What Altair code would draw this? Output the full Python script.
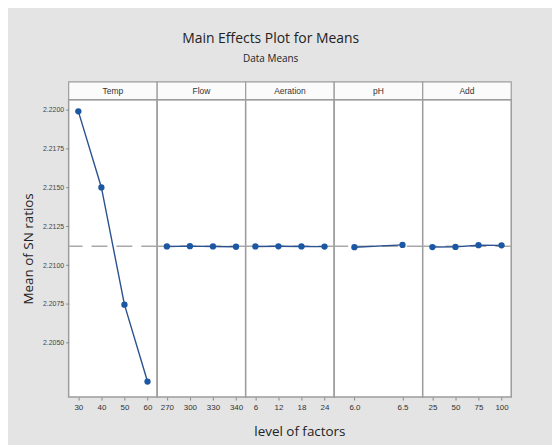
import altair as alt
import pandas as pd

# ---- data ----
factors = ["Temp", "Flow", "Aeration", "pH", "Add"]

temp_levels = ["30", "40", "50", "60"]
temp_means = [2.21990, 2.21500, 2.20745, 2.20250]

flow_levels = ["270", "300", "330", "340"]
flow_means = [2.21120, 2.21122, 2.21120, 2.21118]

aer_levels = ["6", "12", "18", "24"]
aer_means = [2.21120, 2.21121, 2.21120, 2.21119]

ph_levels = ["6.0", "6.5"]
ph_means = [2.21115, 2.21130]

add_levels = ["25", "50", "75", "100"]
add_means = [2.21116, 2.21117, 2.21128, 2.21127]

y_ticks = [2.2050, 2.2075, 2.2100, 2.2125, 2.2150, 2.2175, 2.2200]
y_domain = [2.2015, 2.22065]

levels = [temp_levels, flow_levels, aer_levels, ph_levels, add_levels]
means = [temp_means, flow_means, aer_means, ph_means, add_means]
grand_mean = sum(temp_means) / len(temp_means)

W, H = 89, 299
STRIP = 18
FONT = "Liberation Sans"
TFONT = "Open Sans"
LINE = "#2a5290"
PT = "#1b57a3"
BORDER = "#9c9c9c"


def panel(i):
    f = factors[i]
    df = pd.DataFrame({
        "level": levels[i],
        "mean": means[i],
        "factor": [f] * len(levels[i]),
        "grand": [grand_mean] * len(levels[i]),
    })
    base = alt.Chart(df)
    xaxis = alt.Axis(
        title="level of factors" if f == "Aeration" else None,
        labelAngle=0, labelFontSize=8, labelColor="#333", labelFont=FONT,
        tickSize=3, tickColor="#888", domain=False, labelPadding=4,
        titleFont=TFONT, titleFontSize=13.5, titleFontWeight="normal",
        titleColor="#222", titlePadding=13, titleX=54,
    )
    yscale = alt.Scale(domain=y_domain, nice=False, zero=False)
    if i == 0:
        yaxis = alt.Axis(
            title="Mean of SN ratios", values=y_ticks, format=".4f",
            labelFontSize=7, labelColor="#444", labelFont=FONT,
            tickSize=3, tickColor="#888", domain=False, grid=False,
            titleFont=TFONT, titleFontSize=13.5, titleFontWeight="normal",
            titleColor="#222", titlePadding=7,
        )
    else:
        yaxis = None
    x = alt.X("level:O", sort=levels[i],
              scale=alt.Scale(type="point", padding=0.42), axis=xaxis)
    y = alt.Y("mean:Q", scale=yscale, axis=yaxis)

    strip = base.transform_aggregate(
        n="count()", groupby=["factor"]
    ).mark_rect(fill="#fbfbfb", stroke=BORDER, strokeWidth=1.2).encode(
        x=alt.value(0), x2=alt.value(W), y=alt.value(-STRIP), y2=alt.value(0)
    )
    strip_text = base.transform_aggregate(
        n="count()", groupby=["factor"]
    ).mark_text(font=FONT, fontSize=8.5, color="#333", baseline="middle").encode(
        text="factor:N", x=alt.value(W / 2), y=alt.value(-STRIP / 2)
    )
    rule = base.transform_aggregate(g="mean(grand)").mark_rule(
        color="#a9a9a9", strokeWidth=1.4, strokeDash=[16, 9]
    ).encode(y=alt.Y("g:Q", scale=yscale, axis=yaxis))
    line = base.mark_line(color=LINE, strokeWidth=1.4).encode(x=x, y=y)
    pts = base.mark_circle(color=PT, opacity=1, size=40).encode(x=x, y=y)
    return alt.layer(rule, line, pts, strip, strip_text).properties(width=W, height=H)


chart = alt.hconcat(*[panel(i) for i in range(5)], spacing=0, bounds="flush").resolve_scale(
    x="independent"
).properties(
    title=alt.TitleParams(
        "Main Effects Plot for Means", subtitle="Data Means",
        font=TFONT, fontSize=14, fontWeight="normal", color="#222",
        subtitleFont=TFONT, subtitleFontSize=10, subtitleColor="#222",
        anchor="middle", frame="bounds", offset=17, subtitlePadding=8, dx=4,
    ),
    background="#e4e4e4",
    padding={"left": 12, "top": 22, "right": 39, "bottom": 4},
).configure_view(stroke=BORDER, strokeWidth=1.5, fill="white")

chart.save("out.html", embed_options={"renderer": "svg", "actions": False})
